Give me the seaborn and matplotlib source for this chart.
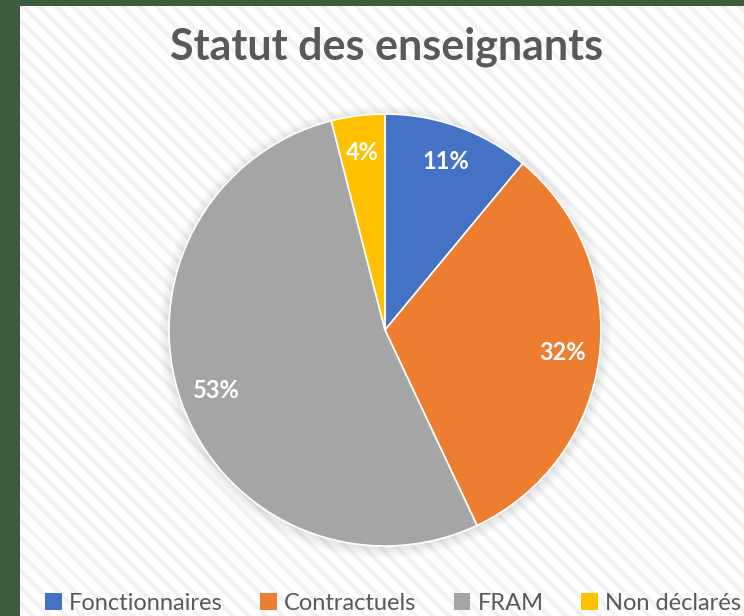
import matplotlib
matplotlib.use("Agg")
import matplotlib.pyplot as plt
import seaborn as sns
from matplotlib.patches import Rectangle, Patch, Circle

categories = ["Fonctionnaires", "Contractuels", "FRAM", "Non déclarés"]
values = [11, 32, 53, 4]
colors = ["#4472C4", "#ED7D31", "#A5A5A5", "#FFC000"]
title = "Statut des enseignants"

sns.set_theme(style="white")
plt.rcParams['font.family'] = ['Lato', 'DejaVu Sans']
plt.rcParams['hatch.linewidth'] = 3.0

fig = plt.figure(figsize=(7.44, 6.16), dpi=100, facecolor="#3d5c3e")
W, H = 744, 616

# white chart area with subtle diagonal stripes
bg = Rectangle((20 / W, 0), 1 - 20 / W, 1 - 6 / H, transform=fig.transFigure,
               facecolor="white", edgecolor="#f2f2f2", hatch="\\\\", linewidth=0, zorder=-10)
fig.patches.append(bg)

cx, cy, r = 385, 616 - 330, 216
ax = fig.add_axes([(cx - r) / W, (cy - r) / H, 2 * r / W, 2 * r / H])
ax.set_zorder(5)
ax.set_facecolor("none")

# soft shadow around the pie
for i in range(8):
    ax.add_patch(Circle((0, -0.008), 1.0 + 0.006 * (8 - i), facecolor="#888888",
                        edgecolor="none", alpha=0.025, zorder=0, clip_on=False))

wedges, texts, autotexts = ax.pie(
    values, colors=colors, startangle=90, counterclock=False,
    autopct=lambda p: f"{p:.0f}%", pctdistance=0.83,
    wedgeprops=dict(edgecolor="white", linewidth=1.2, zorder=2),
    textprops=dict(color="white", fontsize=17, fontweight="bold"))
for t in autotexts:
    t.set_zorder(3)
ax.set_xlim(-1, 1)
ax.set_ylim(-1, 1)
ax.set_aspect("equal")
ax.axis("off")

fig.text(387 / W, 1 - 47 / H, title, ha="center", va="center",
         fontsize=31, fontweight="bold", color="#595959")

handles = [Patch(facecolor=c, edgecolor="none") for c in colors]
fig.legend(handles, categories, loc="center", bbox_to_anchor=(393 / W, 1 - 603 / H),
           ncol=4, frameon=False, fontsize=17, labelcolor="#595959",
           handlelength=0.7, handleheight=0.7, handletextpad=0.3, columnspacing=1.6)

fig.savefig("out.png", dpi=100, facecolor=fig.get_facecolor())
